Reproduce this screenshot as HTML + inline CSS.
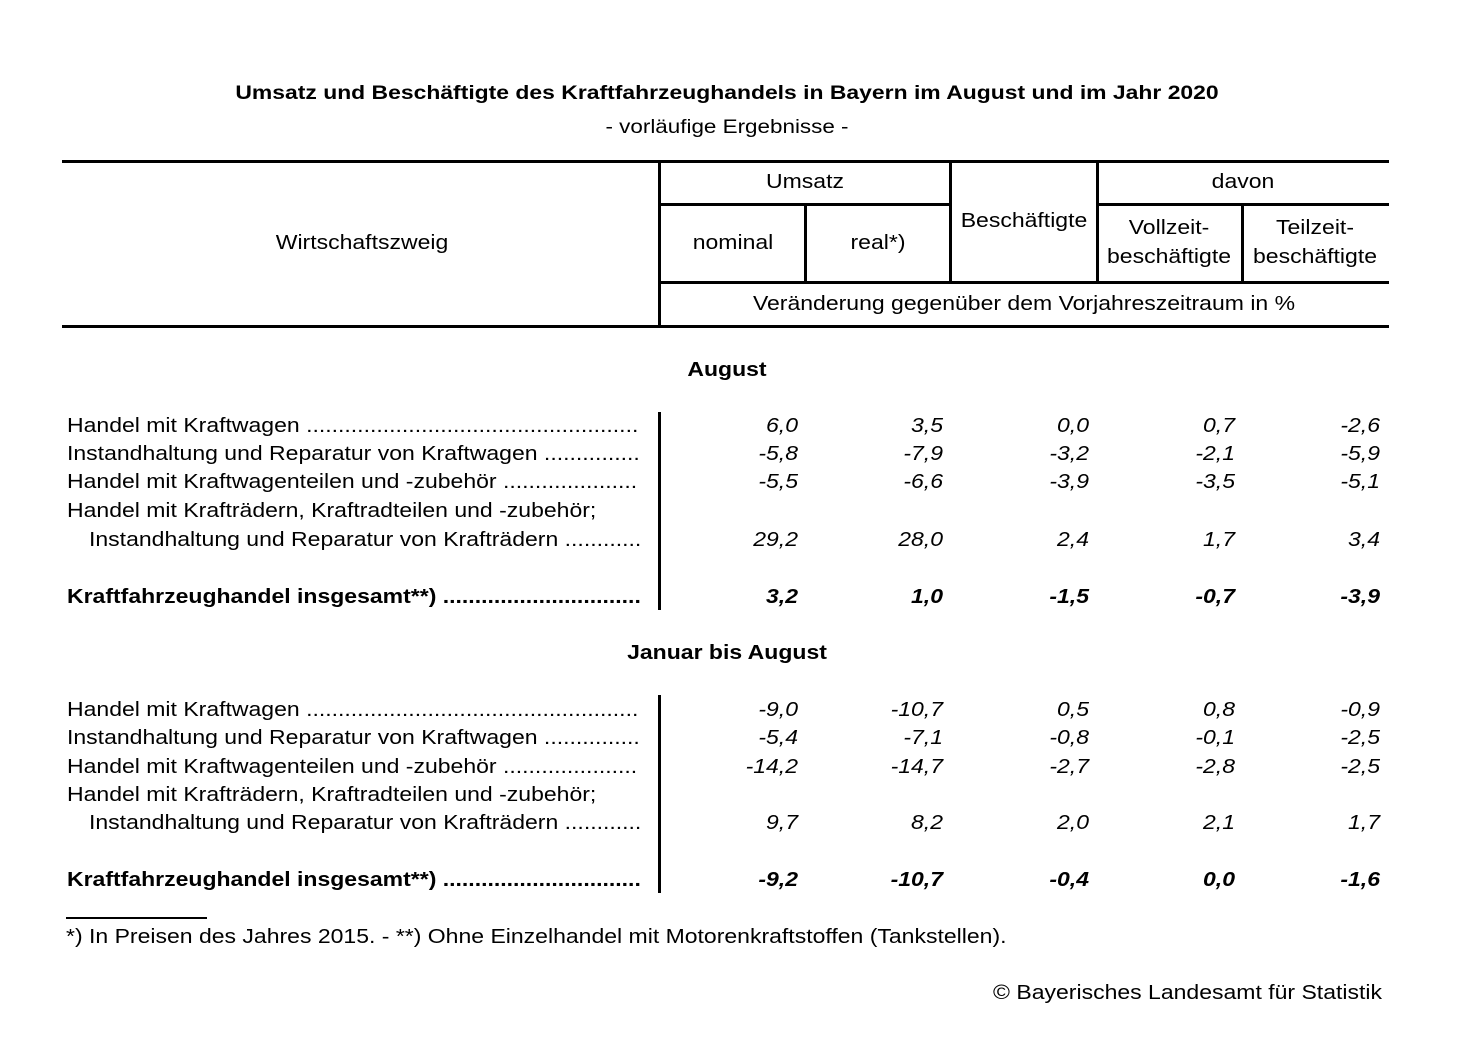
<!DOCTYPE html>
<html><head><meta charset="utf-8"><style>
body{margin:0;background:#fff;width:1459px;height:1053px;position:relative;font-family:"Liberation Sans",Arial,sans-serif;color:#000;overflow:hidden}
.t{position:absolute;white-space:nowrap;font-size:20px;line-height:24px;transform-origin:left center;transform:scaleX(1.15)}
.h{position:absolute;background:#000}
.c{text-align:center;transform-origin:center;transform:translateX(-50%) scaleX(1.15)}
.r{text-align:right;transform-origin:right center;transform:translateX(-100%) scaleX(1.15);font-style:italic}
.b{font-weight:bold}
</style></head><body>
<div class="t b c" style="left:727px;top:81px;font-size:19.5px;transform:translateX(-50%) scaleX(1.175)">Umsatz und Beschäftigte des Kraftfahrzeughandels in Bayern im August und im Jahr 2020</div>
<div class="t c" style="left:727px;top:115px;font-size:19.5px">- vorläufige Ergebnisse -</div>

<div class="h" style="left:62px;top:160px;width:1327px;height:3px"></div>
<div class="h" style="left:659px;top:203px;width:291px;height:3px"></div>
<div class="h" style="left:1097px;top:203px;width:292px;height:3px"></div>
<div class="h" style="left:659px;top:281px;width:730px;height:3px"></div>
<div class="h" style="left:62px;top:325px;width:1327px;height:3px"></div>
<div class="h" style="left:658px;top:161px;width:3px;height:166px"></div>
<div class="h" style="left:804px;top:204px;width:3px;height:79px"></div>
<div class="h" style="left:949px;top:161px;width:3px;height:122px"></div>
<div class="h" style="left:1096px;top:161px;width:3px;height:122px"></div>
<div class="h" style="left:1241px;top:204px;width:3px;height:79px"></div>

<div class="t c" style="left:362px;top:231px">Wirtschaftszweig</div>
<div class="t c" style="left:805px;top:170px">Umsatz</div>
<div class="t c" style="left:1243px;top:170px">davon</div>
<div class="t c" style="left:733px;top:231px">nominal</div>
<div class="t c" style="left:878px;top:231px">real*)</div>
<div class="t c" style="left:1024px;top:209px">Beschäftigte</div>
<div class="t c" style="left:1169px;top:216px">Vollzeit-</div>
<div class="t c" style="left:1169px;top:245px">beschäftigte</div>
<div class="t c" style="left:1315px;top:216px">Teilzeit-</div>
<div class="t c" style="left:1315px;top:245px">beschäftigte</div>
<div class="t c" style="left:1024px;top:292px">Veränderung gegenüber dem Vorjahreszeitraum in %</div>

<div class="h" style="left:658px;top:412px;width:3px;height:198px"></div>
<div class="h" style="left:658px;top:695px;width:3px;height:198px"></div>

<div class="t b c" style="left:727px;top:358px">August</div>
<div class="t b c" style="left:727px;top:641px">Januar bis August</div>

<div class="t" style="left:67px;top:414px">Handel mit Kraftwagen ....................................................</div>
<div class="t" style="left:67px;top:442px">Instandhaltung und Reparatur von Kraftwagen ...............</div>
<div class="t" style="left:67px;top:470px">Handel mit Kraftwagenteilen und -zubehör .....................</div>
<div class="t" style="left:67px;top:499px">Handel mit Krafträdern, Kraftradteilen und -zubehör;</div>
<div class="t" style="left:89px;top:528px">Instandhaltung und Reparatur von Krafträdern ............</div>
<div class="t b" style="left:67px;top:585px">Kraftfahrzeughandel insgesamt**) ...............................</div>

<div class="t" style="left:67px;top:698px">Handel mit Kraftwagen ....................................................</div>
<div class="t" style="left:67px;top:726px">Instandhaltung und Reparatur von Kraftwagen ...............</div>
<div class="t" style="left:67px;top:755px">Handel mit Kraftwagenteilen und -zubehör .....................</div>
<div class="t" style="left:67px;top:783px">Handel mit Krafträdern, Kraftradteilen und -zubehör;</div>
<div class="t" style="left:89px;top:811px">Instandhaltung und Reparatur von Krafträdern ............</div>
<div class="t b" style="left:67px;top:868px">Kraftfahrzeughandel insgesamt**) ...............................</div>

<div class="t r" style="left:798px;top:414px">6,0</div><div class="t r" style="left:943px;top:414px">3,5</div><div class="t r" style="left:1089px;top:414px">0,0</div><div class="t r" style="left:1235px;top:414px">0,7</div><div class="t r" style="left:1380px;top:414px">-2,6</div>
<div class="t r" style="left:798px;top:442px">-5,8</div><div class="t r" style="left:943px;top:442px">-7,9</div><div class="t r" style="left:1089px;top:442px">-3,2</div><div class="t r" style="left:1235px;top:442px">-2,1</div><div class="t r" style="left:1380px;top:442px">-5,9</div>
<div class="t r" style="left:798px;top:470px">-5,5</div><div class="t r" style="left:943px;top:470px">-6,6</div><div class="t r" style="left:1089px;top:470px">-3,9</div><div class="t r" style="left:1235px;top:470px">-3,5</div><div class="t r" style="left:1380px;top:470px">-5,1</div>
<div class="t r" style="left:798px;top:528px">29,2</div><div class="t r" style="left:943px;top:528px">28,0</div><div class="t r" style="left:1089px;top:528px">2,4</div><div class="t r" style="left:1235px;top:528px">1,7</div><div class="t r" style="left:1380px;top:528px">3,4</div>
<div class="t r b" style="left:798px;top:585px">3,2</div><div class="t r b" style="left:943px;top:585px">1,0</div><div class="t r b" style="left:1089px;top:585px">-1,5</div><div class="t r b" style="left:1235px;top:585px">-0,7</div><div class="t r b" style="left:1380px;top:585px">-3,9</div>

<div class="t r" style="left:798px;top:698px">-9,0</div><div class="t r" style="left:943px;top:698px">-10,7</div><div class="t r" style="left:1089px;top:698px">0,5</div><div class="t r" style="left:1235px;top:698px">0,8</div><div class="t r" style="left:1380px;top:698px">-0,9</div>
<div class="t r" style="left:798px;top:726px">-5,4</div><div class="t r" style="left:943px;top:726px">-7,1</div><div class="t r" style="left:1089px;top:726px">-0,8</div><div class="t r" style="left:1235px;top:726px">-0,1</div><div class="t r" style="left:1380px;top:726px">-2,5</div>
<div class="t r" style="left:798px;top:755px">-14,2</div><div class="t r" style="left:943px;top:755px">-14,7</div><div class="t r" style="left:1089px;top:755px">-2,7</div><div class="t r" style="left:1235px;top:755px">-2,8</div><div class="t r" style="left:1380px;top:755px">-2,5</div>
<div class="t r" style="left:798px;top:811px">9,7</div><div class="t r" style="left:943px;top:811px">8,2</div><div class="t r" style="left:1089px;top:811px">2,0</div><div class="t r" style="left:1235px;top:811px">2,1</div><div class="t r" style="left:1380px;top:811px">1,7</div>
<div class="t r b" style="left:798px;top:868px">-9,2</div><div class="t r b" style="left:943px;top:868px">-10,7</div><div class="t r b" style="left:1089px;top:868px">-0,4</div><div class="t r b" style="left:1235px;top:868px">0,0</div><div class="t r b" style="left:1380px;top:868px">-1,6</div>

<div class="h" style="left:66px;top:917px;width:141px;height:2px"></div>
<div class="t" style="left:66px;top:925px">*) In Preisen des Jahres 2015. - **) Ohne Einzelhandel mit Motorenkraftstoffen (Tankstellen).</div>
<div class="t" style="left:1382px;top:981px;transform-origin:right center;transform:translateX(-100%) scaleX(1.15)">© Bayerisches Landesamt für Statistik</div>
</body></html>
